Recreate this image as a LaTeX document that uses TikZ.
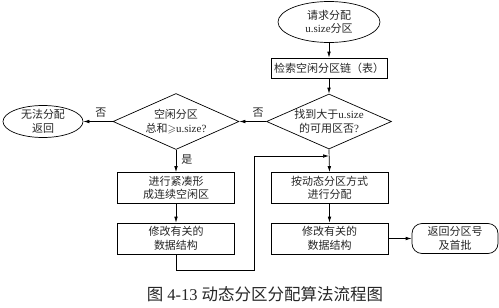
\documentclass[tikz,border=0pt]{standalone}
\usepackage{amssymb}
\usepackage{fontspec}
\setmainfont{Noto Sans CJK SC}
\newfontfamily\lat{Liberation Serif}
\usetikzlibrary{shapes.geometric,arrows.meta}
\begin{document}
\begin{tikzpicture}[x=1pt,y=-1pt,
  line width=0.7pt,
  arr/.style={-{Latex[length=6pt,width=3.6pt]}},
  txt/.style={align=center,inner sep=0pt,text=black!85,font=\fontsize{11}{13.5}\selectfont},
  boxn/.style={draw,rectangle,inner sep=0pt,minimum width=117pt,minimum height=31pt},
  dia/.style={draw,diamond,inner sep=0pt,minimum width=126pt,minimum height=56pt},
  ell/.style={draw,ellipse,inner sep=0pt},
  rbox/.style={draw,rectangle,rounded corners=10pt,inner sep=0pt,minimum width=86pt,minimum height=30pt},
  lbl/.style={inner sep=0pt,text=black!85,font=\fontsize{11}{13}\selectfont}]
\useasboundingbox (0,0) rectangle (499,308);
% shapes
\node[ell,minimum width=102pt,minimum height=41pt] (start) at (329,22) {};
\node[txt] (starttxt) at (start) {请求分配\\{\lat u.size}分区};
\node[boxn,minimum width=116pt,minimum height=20pt] (search) at (329,68) {};
\node[txt] (searchtxt) at (search) {检索空闲分区链（表）};
\node[dia,minimum width=125pt,minimum height=55pt] (d2) at (329,121.5) {};
\node[txt] (d2txt) at (d2) {找到大于{\lat u.size}\\的可用区否{\lat ?}};
\node[dia] (d1) at (176,121.5) {};
\node[txt] (d1txt) at (d1) {空闲分区\\总和{$\geqslant$}{\lat u.size?}};
\node[ell,minimum width=80pt,minimum height=32pt] (fail) at (43,121.5) {};
\node[txt] (failtxt) at (fail) {无法分配\\返回};
\node[boxn] (l1) at (176,188) {};
\node[txt] (l1txt) at (l1) {进行紧凑形\\成连续空闲区};
\node[boxn] (l2) at (176,238.5) {};
\node[txt] (l2txt) at (l2) {修改有关的\\数据结构};
\node[boxn] (r1) at (329.5,188) {};
\node[txt] (r1txt) at (r1) {按动态分区方式\\进行分配};
\node[boxn] (r2) at (329.5,238.5) {};
\node[txt] (r2txt) at (r2) {修改有关的\\数据结构};
\node[rbox] (ret) at (455,238.5) {};
\node[txt] (rettxt) at (ret) {返回分区号\\及首批};
% coordinates
\coordinate (c1) at (176,270);
\coordinate (c2) at (254,270);
\coordinate (c3) at (254,156);
\coordinate (j) at (329,156);
% connectors
\draw[arr] (start) -- (search);
\draw[arr] (search) -- (d2);
\draw[arr] (d2.west) -- node[lbl,above=4pt,pos=0.3] (no1) {否} (d1.east);
\draw[arr] (d1.west) -- node[lbl,above=4pt,pos=0.4] (no2) {否} (fail.east);
\draw[arr] (d1.south) -- node[lbl,right=5pt,pos=0.45] (yes) {是} (l1.north);
\draw[arr] (l1) -- (l2);
\draw[arr] (d2.south) -- (r1.north);
\draw[arr] (r1) -- (r2);
\draw[arr] (r2) -- (ret);
\draw[arr] (l2.south) -- (c1) -- (c2) -- (c3) -- (j);
% caption
\node[inner sep=0pt,text=black!85,font=\fontsize{16.5}{19}\selectfont] (cap) at (265,294) {图{\lat\ 4-13\ }动态分区分配算法流程图};
\end{tikzpicture}
\end{document}
